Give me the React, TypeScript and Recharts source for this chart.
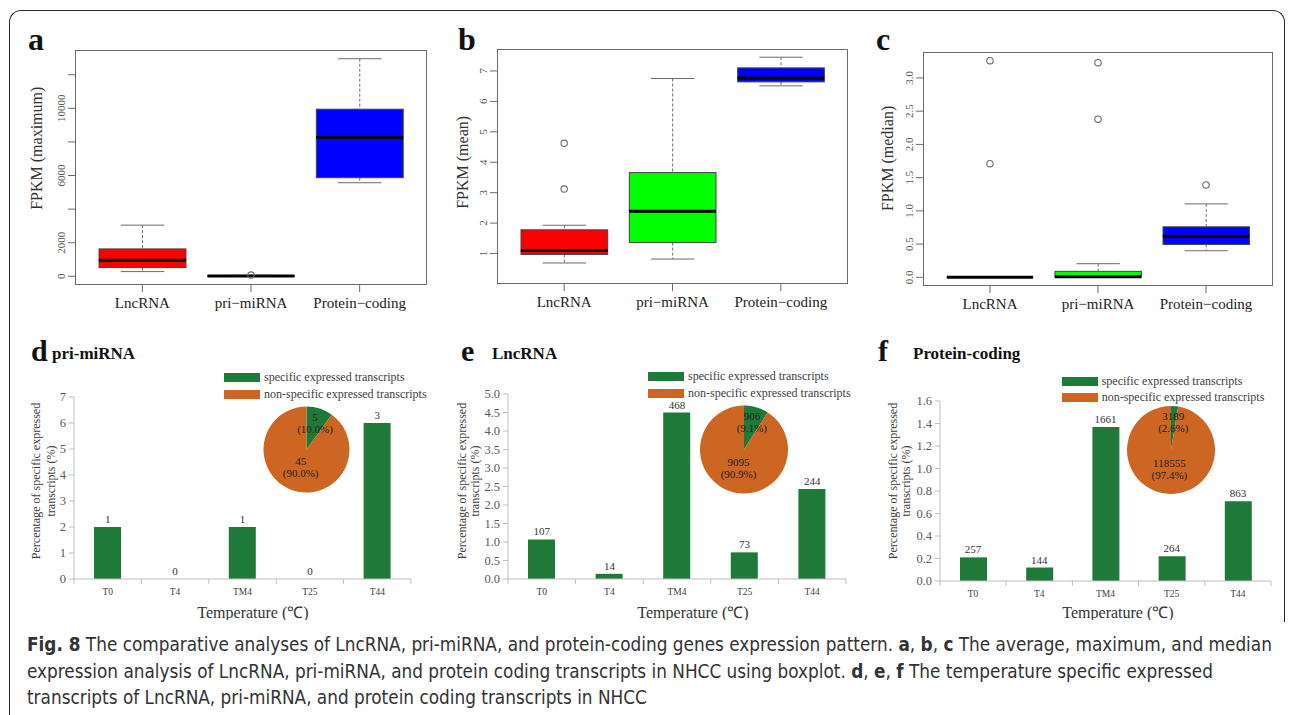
import React from "react";
import {
  Bar,
  Cell,
  ComposedChart,
  LabelList,
  Legend,
  Line,
  Pie,
  PieChart,
  XAxis,
  YAxis,
} from "recharts";

const SERIF = '"Liberation Serif", "Times New Roman", Times, serif';
const SANS = '"Liberation Sans Narrow", "DejaVu Sans Condensed", "Open Sans", sans-serif';

const R_GRAY = "#6b6b6b";
const AXIS_GRAY = "#bfbfbf";
const GREEN = "#1f7a3a";
const ORANGE = "#cc6622";

// boxplots (a, b, c)
const BOX_CATEGORIES = ["LncRNA", "pri\u2212miRNA", "Protein\u2212coding"];
const BOX_COLORS = ["#ff0000", "#00ff00", "#0000ff"];

const MAX_LOW = [280, 0, 5570];
const MAX_Q1 = [520, 3, 5870];
const MAX_MEDIAN = [955, 15, 8260];
const MAX_Q3 = [1630, 35, 9950];
const MAX_HIGH = [3045, 60, 12955];
const MAX_OUTLIERS = [[], [75], []];
const MAX_TICKS = [0, 2000, 4000, 6000, 8000, 10000, 12000];
const MAX_TICK_LABELS = ["0", "2000", "", "6000", "", "10000", ""];

const MEAN_LOW = [0.69, 0.82, 6.51];
const MEAN_Q1 = [0.97, 1.36, 6.64];
const MEAN_MEDIAN = [1.1, 2.39, 6.77];
const MEAN_Q3 = [1.78, 3.66, 7.1];
const MEAN_HIGH = [1.93, 6.75, 7.45];
const MEAN_OUTLIERS = [[3.12, 4.62], [], []];
const MEAN_TICKS = [1, 2, 3, 4, 5, 6, 7];
const MEAN_TICK_LABELS = ["1", "2", "3", "4", "5", "6", "7"];

const MEDIAN_LOW = [0, 0, 0.4];
const MEDIAN_Q1 = [0, 0, 0.495];
const MEDIAN_MEDIAN = [0, 0.01, 0.62];
const MEDIAN_Q3 = [0, 0.09, 0.76];
const MEDIAN_HIGH = [0, 0.205, 1.105];
const MEDIAN_OUTLIERS = [[1.71, 3.26], [2.38, 3.23], [1.39]];
const MEDIAN_TICKS = [0, 0.5, 1, 1.5, 2, 2.5, 3];
const MEDIAN_TICK_LABELS = ["0.0", "0.5", "1.0", "1.5", "2.0", "2.5", "3.0"];

// temperature bars (d, e, f)
const TEMPS = ["T0", "T4", "TM4", "T25", "T44"];
const MIRNA_PCT = [2, 0, 2, 0, 6];
const MIRNA_COUNT = [1, 0, 1, 0, 3];
const MIRNA_TICKS = [0, 1, 2, 3, 4, 5, 6, 7];
const LNC_PCT = [1.07, 0.14, 4.5, 0.72, 2.43];
const LNC_COUNT = [107, 14, 468, 73, 244];
const LNC_TICKS = [0, 0.5, 1, 1.5, 2, 2.5, 3, 3.5, 4, 4.5, 5];
const PC_PCT = [0.21, 0.12, 1.37, 0.22, 0.71];
const PC_COUNT = [257, 144, 1661, 264, 863];
const PC_TICKS = [0, 0.2, 0.4, 0.6, 0.8, 1, 1.2, 1.4, 1.6];

const PIE_NAMES = ["specific expressed transcripts", "non-specific expressed transcripts"];
const PIE_COLORS = [GREEN, ORANGE];
const MIRNA_PIE = [5, 45];
const LNC_PIE = [906, 9095];
const PC_PIE = [3189, 118555];

type Rect = { x1: number; y1: number; x2: number; y2: number };

function WhiskerLow(p: any) {
  const cx = p.x + p.width / 2;
  const yb = p.y + p.height;
  return (
    <g>
      <line x1={cx} x2={cx} y1={p.y} y2={yb} stroke={R_GRAY} strokeDasharray="3 2" />
      <line x1={p.x + p.width / 4} x2={p.x + (3 * p.width) / 4} y1={yb} y2={yb} stroke={R_GRAY} />
    </g>
  );
}

function WhiskerHigh(p: any) {
  const cx = p.x + p.width / 2;
  return (
    <g>
      <line x1={cx} x2={cx} y1={p.y} y2={p.y + p.height} stroke={R_GRAY} strokeDasharray="3 2" />
      <line x1={p.x + p.width / 4} x2={p.x + (3 * p.width) / 4} y1={p.y} y2={p.y} stroke={R_GRAY} />
    </g>
  );
}

function BoxShape(p: any) {
  return (
    <rect
      x={p.x}
      y={p.y}
      width={p.width}
      height={Math.max(p.height, 0)}
      fill={p.payload?.color}
      stroke="#444"
      strokeWidth={1}
    />
  );
}

function outlierDot(dp: any) {
  const key = `o${dp.dataKey}${dp.index}`;
  if (typeof dp.cy !== "number" || Number.isNaN(dp.cy) || dp.value == null) return <g key={key} />;
  return <circle key={key} cx={dp.cx} cy={dp.cy} r={3.2} fill="none" stroke={R_GRAY} strokeWidth={1.1} />;
}

type BoxPanelProps = {
  left: number;
  top: number;
  width: number;
  height: number;
  frame: Rect;
  low: number[];
  q1: number[];
  median: number[];
  q3: number[];
  high: number[];
  outliers: number[][];
  ticks: number[];
  tickLabels: string[];
  title: string;
  titleX: number;
};

function BoxPanel(p: BoxPanelProps) {
  const margin = { top: p.frame.y1 - p.top, right: p.left + p.width - p.frame.x2, bottom: 5, left: 0 };
  const yWidth = p.frame.x1 - p.left;
  const xHeight = p.top + p.height - p.frame.y2 - margin.bottom;
  const plotW = p.frame.x2 - p.frame.x1;
  const plotH = p.frame.y2 - p.frame.y1;
  const unit = plotW / 3.24;
  const boxW = unit * 0.8;

  const rows = BOX_CATEGORIES.map((cat, i) => ({
    cat,
    color: BOX_COLORS[i],
    base: p.low[i],
    wLow: p.q1[i] - p.low[i],
    box: p.q3[i] - p.q1[i],
    wHigh: p.high[i] - p.q3[i],
    med: p.median[i],
    out1: p.outliers[i][0] ?? null,
    out2: p.outliers[i][1] ?? null,
  }));
  const all = [...p.low, ...p.high, ...p.outliers.flat()];
  const lo = Math.min(...all);
  const hi = Math.max(...all);
  const ext = (hi - lo) * 0.04;

  const medianDot = (dp: any) => {
    const key = `m${dp.index}`;
    if (typeof dp.cy !== "number" || Number.isNaN(dp.cy)) return <g key={key} />;
    return (
      <line key={key} x1={dp.cx - boxW / 2} x2={dp.cx + boxW / 2} y1={dp.cy} y2={dp.cy} stroke="#000" strokeWidth={3} />
    );
  };

  const titleY = margin.top + plotH * 0.68;

  return (
    <div style={{ position: "absolute", left: p.left, top: p.top, width: p.width, height: p.height }}>
      <ComposedChart width={p.width} height={p.height} data={rows} margin={margin} barSize={boxW}>
        <XAxis
          dataKey="cat"
          type="category"
          interval={0}
          padding={{ left: unit * 0.12, right: unit * 0.12 }}
          height={xHeight}
          axisLine={false}
          tickSize={7}
          tickMargin={5}
          tickLine={{ stroke: R_GRAY }}
          tick={{ fontSize: 15, fill: "#222", fontFamily: SERIF }}
        />
        <YAxis
          type="number"
          domain={[lo - ext, hi + ext]}
          ticks={p.ticks}
          interval={0}
          width={yWidth}
          axisLine={false}
          tickSize={7}
          tickMargin={2}
          tickLine={{ stroke: R_GRAY }}
          tick={(tp: any) => {
            const i = p.ticks.indexOf(tp.payload.value);
            const x = tp.x - 1;
            return (
              <text
                key={`yt${tp.index}`}
                x={x}
                y={tp.y}
                transform={`rotate(-90 ${x} ${tp.y})`}
                textAnchor="middle"
                fontSize={11}
                fill="#555"
                fontFamily={SERIF}
              >
                {i >= 0 ? p.tickLabels[i] : ""}
              </text>
            );
          }}
          label={() => (
            <text
              x={p.titleX}
              y={titleY}
              transform={`rotate(-90 ${p.titleX} ${titleY})`}
              textAnchor="start"
              dominantBaseline="central"
              fontSize={16}
              fill="#333"
              fontFamily={SERIF}
            >
              {p.title}
            </text>
          )}
        />
        <Bar dataKey="base" stackId="box" fill="transparent" isAnimationActive={false} />
        <Bar dataKey="wLow" stackId="box" shape={WhiskerLow} isAnimationActive={false} />
        <Bar dataKey="box" stackId="box" shape={BoxShape} isAnimationActive={false} />
        <Bar dataKey="wHigh" stackId="box" shape={WhiskerHigh} isAnimationActive={false} />
        <Line dataKey="med" stroke="none" dot={medianDot} activeDot={false} legendType="none" isAnimationActive={false} />
        <Line dataKey="out1" stroke="none" dot={outlierDot} activeDot={false} legendType="none" isAnimationActive={false} />
        <Line dataKey="out2" stroke="none" dot={outlierDot} activeDot={false} legendType="none" isAnimationActive={false} />
      </ComposedChart>
      <div
        style={{
          position: "absolute",
          left: p.frame.x1 - p.left,
          top: p.frame.y1 - p.top,
          width: plotW,
          height: plotH,
          border: `1px solid ${R_GRAY}`,
          boxSizing: "border-box",
          pointerEvents: "none",
        }}
      />
    </div>
  );
}

type BarPanelProps = {
  left: number;
  top: number;
  width: number;
  height: number;
  plot: Rect;
  pct: number[];
  count: number[];
  ticks: number[];
  decimals: number;
  yTitleX: number;
  yTitleGap: number;
  xTitleX: number;
};

function BarPanel(p: BarPanelProps) {
  const margin = { top: p.plot.y1 - p.top, right: p.left + p.width - p.plot.x2, bottom: 1, left: 0 };
  const yWidth = p.plot.x1 - p.left;
  const xHeight = p.top + p.height - p.plot.y2 - 1;
  const band = (p.plot.x2 - p.plot.x1) / TEMPS.length;
  const axisY = p.plot.y2 - p.top;
  const rows = TEMPS.map((t, i) => ({ t, pct: p.pct[i], n: p.count[i] }));
  const titleY = 151;
  const x2 = p.yTitleX + p.yTitleGap;

  return (
    <div style={{ position: "absolute", left: p.left, top: p.top, width: p.width, height: p.height }}>
      <ComposedChart width={p.width} height={p.height} data={rows} margin={margin} barSize={27}>
        <XAxis
          dataKey="t"
          interval={0}
          height={xHeight}
          axisLine={{ stroke: AXIS_GRAY }}
          tickLine={false}
          tick={(tp: any) => (
            <g key={`xt${tp.index}`}>
              <line x1={tp.x - band / 2} x2={tp.x - band / 2} y1={axisY} y2={axisY + 5} stroke={AXIS_GRAY} />
              {tp.index === TEMPS.length - 1 && (
                <line x1={tp.x + band / 2} x2={tp.x + band / 2} y1={axisY} y2={axisY + 5} stroke={AXIS_GRAY} />
              )}
              <text
                x={tp.x}
                y={axisY + 13}
                textAnchor="middle"
                dominantBaseline="central"
                fontSize={9.5}
                fill="#404040"
                fontFamily={SERIF}
              >
                {tp.payload.value}
              </text>
            </g>
          )}
          label={() => (
            <text
              x={p.xTitleX}
              y={282}
              textAnchor="middle"
              dominantBaseline="central"
              fontSize={16}
              fill="#333"
              fontFamily={SERIF}
            >
              Temperature (℃)
            </text>
          )}
        />
        <YAxis
          type="number"
          domain={[0, p.ticks[p.ticks.length - 1]]}
          ticks={p.ticks}
          interval={0}
          width={yWidth}
          axisLine={{ stroke: AXIS_GRAY }}
          tickLine={{ stroke: AXIS_GRAY }}
          tickSize={5}
          tickMargin={3}
          tick={{ fontSize: 12.5, fill: "#595959", fontFamily: SERIF }}
          tickFormatter={(v: number) => v.toFixed(p.decimals)}
          label={() => (
            <g>
              <text
                x={p.yTitleX}
                y={titleY}
                transform={`rotate(-90 ${p.yTitleX} ${titleY})`}
                textAnchor="middle"
                dominantBaseline="central"
                fontSize={12}
                fill="#404040"
                fontFamily={SERIF}
              >
                Percentage of specific expressed
              </text>
              <text
                x={x2}
                y={titleY}
                transform={`rotate(-90 ${x2} ${titleY})`}
                textAnchor="middle"
                dominantBaseline="central"
                fontSize={12}
                fill="#404040"
                fontFamily={SERIF}
              >
                transcripts (%)
              </text>
            </g>
          )}
        />
        <Bar dataKey="pct" fill={GREEN} isAnimationActive={false} />
        {/* count labels ride on an invisible line so zero-height bars still get one */}
        <Line dataKey="pct" stroke="none" dot={false} activeDot={false} legendType="none" isAnimationActive={false}>
          <LabelList dataKey="n" position="top" offset={4} fontSize={11} fill="#333" fontFamily={SERIF} />
        </Line>
      </ComposedChart>
    </div>
  );
}

const RADIAN = Math.PI / 180;

function renderPieLabel(lp: any) {
  const factor = lp.index === 0 ? 0.64 : 0.44;
  const r = lp.outerRadius * factor;
  const x = lp.cx + r * Math.cos(-lp.midAngle * RADIAN);
  const y = lp.cy + r * Math.sin(-lp.midAngle * RADIAN);
  return (
    <text key={`pl${lp.index}`} x={x} y={y} textAnchor="middle" fontSize={11} fill="#222" fontFamily={SERIF}>
      <tspan x={x} dy={-2}>
        {lp.value}
      </tspan>
      <tspan x={x} dy={12}>
        ({(lp.percent * 100).toFixed(1)}%)
      </tspan>
    </text>
  );
}

function renderPieLegend(props: any) {
  const items = [...(props.payload ?? [])].sort(
    (a: any, b: any) => PIE_NAMES.indexOf(a.value) - PIE_NAMES.indexOf(b.value)
  );
  return (
    <div style={{ fontFamily: SERIF, fontSize: 12, color: "#404040" }}>
      {items.map((item: any) => {
        const i = PIE_NAMES.indexOf(item.value);
        return (
          <div key={item.value} style={{ display: "flex", alignItems: "center", height: 16.5, whiteSpace: "nowrap" }}>
            <span
              style={{
                display: "inline-block",
                width: 36,
                height: 9,
                marginRight: 4,
                background: PIE_COLORS[i] ?? item.color,
              }}
            />
            {item.value}
          </div>
        );
      })}
    </div>
  );
}

type PieInsetProps = {
  values: number[];
  left: number;
  top: number;
  width: number;
  height: number;
  cx: number;
  cy: number;
  r: number;
  legendLeft: number;
  legendTop: number;
};

function PieInset(p: PieInsetProps) {
  const data = PIE_NAMES.map((name, i) => ({ name, value: p.values[i], fill: PIE_COLORS[i] }));
  return (
    <div style={{ position: "absolute", left: p.left, top: p.top, width: p.width, height: p.height }}>
      <PieChart width={p.width} height={p.height} margin={{ top: 0, right: 0, bottom: 0, left: 0 }}>
        <Legend
          layout="vertical"
          align="center"
          verticalAlign="middle"
          wrapperStyle={{ left: p.legendLeft, top: p.legendTop }}
          content={renderPieLegend}
        />
        <Pie
          data={data}
          dataKey="value"
          nameKey="name"
          cx={p.cx}
          cy={p.cy}
          outerRadius={p.r}
          startAngle={90}
          endAngle={-270}
          stroke="none"
          labelLine={false}
          label={renderPieLabel}
          isAnimationActive={false}
        >
          {data.map((d, i) => (
            <Cell key={d.name} fill={PIE_COLORS[i]} />
          ))}
        </Pie>
      </PieChart>
    </div>
  );
}

function TextAt({
  x,
  baseline,
  size,
  bold,
  children,
}: {
  x: number;
  baseline: number;
  size: number;
  bold?: boolean;
  children: React.ReactNode;
}) {
  return (
    <div
      style={{
        position: "absolute",
        left: x,
        top: baseline - 0.84 * size,
        fontSize: size,
        lineHeight: 1,
        fontWeight: bold ? 700 : 400,
        fontFamily: SERIF,
        color: "#111",
        whiteSpace: "nowrap",
      }}
    >
      {children}
    </div>
  );
}

export default function App() {
  return (
    <div
      style={{
        position: "absolute",
        left: 0,
        top: 0,
        width: 1292,
        height: 715,
        background: "#fff",
        overflow: "hidden",
        fontFamily: SERIF,
      }}
    >
      <div
        style={{
          position: "absolute",
          left: 9,
          top: 10,
          width: 1276,
          height: 612,
          border: "1.5px solid #2b2b2b",
          borderBottom: "none",
          borderRadius: "12px 12px 0 0",
          boxSizing: "border-box",
        }}
      />
      <div style={{ position: "absolute", left: 9, top: 620, width: 0, height: 100, borderLeft: "1.5px solid #2b2b2b" }} />

      <TextAt x={28} baseline={50} size={32} bold>
        a
      </TextAt>
      <TextAt x={458} baseline={50} size={32} bold>
        b
      </TextAt>
      <TextAt x={876} baseline={50} size={32} bold>
        c
      </TextAt>
      <TextAt x={31} baseline={361} size={30} bold>
        d
      </TextAt>
      <TextAt x={52} baseline={359} size={17} bold>
        pri-miRNA
      </TextAt>
      <TextAt x={461} baseline={361} size={30} bold>
        e
      </TextAt>
      <TextAt x={492} baseline={359} size={17} bold>
        LncRNA
      </TextAt>
      <TextAt x={878} baseline={361} size={30} bold>
        f
      </TextAt>
      <TextAt x={913} baseline={359} size={17} bold>
        Protein-coding
      </TextAt>

      <BoxPanel
        left={20}
        top={40}
        width={420}
        height={280}
        frame={{ x1: 75, y1: 50, x2: 427, y2: 285 }}
        low={MAX_LOW}
        q1={MAX_Q1}
        median={MAX_MEDIAN}
        q3={MAX_Q3}
        high={MAX_HIGH}
        outliers={MAX_OUTLIERS}
        ticks={MAX_TICKS}
        tickLabels={MAX_TICK_LABELS}
        title="FPKM (maximum)"
        titleX={17}
      />
      <BoxPanel
        left={440}
        top={39}
        width={420}
        height={280}
        frame={{ x1: 497, y1: 49, x2: 848, y2: 284 }}
        low={MEAN_LOW}
        q1={MEAN_Q1}
        median={MEAN_MEDIAN}
        q3={MEAN_Q3}
        high={MEAN_HIGH}
        outliers={MEAN_OUTLIERS}
        ticks={MEAN_TICKS}
        tickLabels={MEAN_TICK_LABELS}
        title="FPKM (mean)"
        titleX={23}
      />
      <BoxPanel
        left={860}
        top={42}
        width={425}
        height={280}
        frame={{ x1: 923, y1: 52, x2: 1273, y2: 286 }}
        low={MEDIAN_LOW}
        q1={MEDIAN_Q1}
        median={MEDIAN_MEDIAN}
        q3={MEDIAN_Q3}
        high={MEDIAN_HIGH}
        outliers={MEDIAN_OUTLIERS}
        ticks={MEDIAN_TICKS}
        tickLabels={MEDIAN_TICK_LABELS}
        title="FPKM (median)"
        titleX={28}
      />

      <BarPanel
        left={20}
        top={330}
        width={400}
        height={290}
        plot={{ x1: 74, y1: 397, x2: 411, y2: 579 }}
        pct={MIRNA_PCT}
        count={MIRNA_COUNT}
        ticks={MIRNA_TICKS}
        decimals={0}
        yTitleX={16}
        yTitleGap={15}
        xTitleX={233}
      />
      <BarPanel
        left={440}
        top={330}
        width={420}
        height={290}
        plot={{ x1: 508, y1: 394, x2: 846, y2: 579 }}
        pct={LNC_PCT}
        count={LNC_COUNT}
        ticks={LNC_TICKS}
        decimals={1}
        yTitleX={22}
        yTitleGap={13}
        xTitleX={253}
      />
      <BarPanel
        left={860}
        top={330}
        width={425}
        height={290}
        plot={{ x1: 940, y1: 401, x2: 1271, y2: 581 }}
        pct={PC_PCT}
        count={PC_COUNT}
        ticks={PC_TICKS}
        decimals={1}
        yTitleX={33}
        yTitleGap={13}
        xTitleX={258}
      />

      <PieInset values={MIRNA_PIE} left={215} top={365} width={215} height={135} cx={91.5} cy={84.5} r={43} legendLeft={9} legendTop={4.5} />
      <PieInset values={LNC_PIE} left={640} top={365} width={220} height={135} cx={104} cy={84.5} r={44} legendLeft={8} legendTop={3.5} />
      <PieInset values={PC_PIE} left={1055} top={368} width={230} height={130} cx={116} cy={82} r={44} legendLeft={6.7} legendTop={4.8} />

      <div
        style={{
          position: "absolute",
          left: 27,
          top: 632,
          fontFamily: SANS,
          fontSize: 18.8,
          lineHeight: "26.5px",
          color: "#333",
          whiteSpace: "nowrap",
        }}
      >
        <div>
          <b>Fig. 8</b> The comparative analyses of LncRNA, pri-miRNA, and protein-coding genes expression pattern. <b>a</b>,{" "}
          <b>b</b>, <b>c</b> The average, maximum, and median
        </div>
        <div>
          expression analysis of LncRNA, pri-miRNA, and protein coding transcripts in NHCC using boxplot. <b>d</b>, <b>e</b>,{" "}
          <b>f</b> The temperature specific expressed
        </div>
        <div>transcripts of LncRNA, pri-miRNA, and protein coding transcripts in NHCC</div>
      </div>
    </div>
  );
}
